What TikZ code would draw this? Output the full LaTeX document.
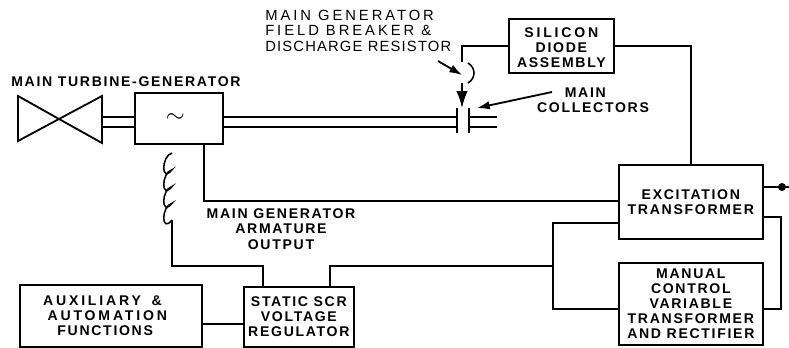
\documentclass[tikz,border=0pt]{standalone}
\usepackage{fontspec}
\setmainfont{Liberation Sans}[LetterSpace=12]
\newfontfamily\loosefont{Liberation Sans}[LetterSpace=20]
\newfontfamily\tightfont{Liberation Sans}[LetterSpace=8]
\usetikzlibrary{calc}
\usetikzlibrary{arrows.meta}
\tikzset{
    unitbox/.style={draw,line width=1.2pt,anchor=north west,inner sep=0pt},
    boldlabel/.style={font=\fontsize{10}{10.8}\selectfont\bfseries,align=center,inner sep=0pt},
    thinlabel/.style={font=\fontsize{10.5}{10.9}\selectfont,align=left,inner sep=0pt},
    wire/.style={line width=1.1pt},
    pointer/.style={line width=1.3pt,-{Latex[length=9pt,width=6pt]}},
}
\begin{document}
\begin{tikzpicture}[x=0.025cm,y=-0.025cm]
    \useasboundingbox (0,0) rectangle (789,348);
    % blocks
    \node[unitbox,minimum width=88*0.025cm,minimum height=51*0.025cm] (gen) at (134,92) {\LARGE$\sim$\kern5pt};
    \node[unitbox,boldlabel,minimum width=105*0.025cm,minimum height=54*0.025cm] (diode) at (508,18) {\rule{0pt}{10pt}{\loosefont SILICON}\\DIODE\\ASSEMBLY};
    \node[unitbox,boldlabel,minimum width=144*0.025cm,minimum height=74*0.025cm] (exciter) at (618,164) {EXCITATION\\TRANSFORMER};
    \node[unitbox,boldlabel,minimum width=144*0.025cm,minimum height=82*0.025cm] (manual) at (618,262) {MANUAL\\CONTROL\\VARIABLE\\TRANSFORMER\\AND RECTIFIER};
    \node[unitbox,boldlabel,minimum width=110*0.025cm,minimum height=60*0.025cm] (scr) at (243,286) {STATIC SCR\\VOLTAGE\\REGULATOR};
    \node[unitbox,boldlabel,minimum width=182*0.025cm,minimum height=62*0.025cm] (aux) at (19,284) {{\loosefont AUXILIARY \;\&}\kern12pt\\{\loosefont AUTOMATION}\kern5pt\\FUNCTIONS\kern8pt};
    % turbine
    \draw[line width=1.3pt,line join=miter] (59,119)--(18,96)--(18,141)--(59,119)--(102,96)--(102,143)--cycle;
    \coordinate (turb) at (102,119);
    % labels
    \node[boldlabel,anchor=west] (turblabel) at (11,82) {MAIN TURBINE-GENERATOR};
    \node[thinlabel,anchor=north west] (breakerlabel) at (265,10) {{\loosefont MAIN GENERATOR}\\{\loosefont FIELD BREAKER \&}\\{\tightfont DISCHARGE RESISTOR}};
    \node[boldlabel] (colllabel) at (593,100) {MAIN\kern11pt\\COLLECTORS};
    \node[boldlabel] (outlabel) at (281,229) {MAIN GENERATOR\\ARMATURE\\OUTPUT};
    % collectors
    \coordinate (platea) at (457,108);
    \coordinate (plateb) at (469,108);
    \draw[line width=1.5pt] (platea)--++(0,25);
    \draw[line width=1.5pt] (plateb)--++(0,25);
    \foreach \yy in {117,127}{
        \draw[wire] (turb |- 0,\yy)--(gen.west |- 0,\yy);
        \draw[wire] (gen.east |- 0,\yy)--(platea |- 0,\yy);
        \draw[wire] (plateb |- 0,\yy)--(497,\yy);
    }
    % breaker
    \coordinate (brktop) at (462,62);
    \coordinate (brkbot) at (462,83);
    \draw[wire] (diode.west |- 0,46)--(brktop |- 0,46)--(brktop);
    \draw[wire] (468,63) .. controls (476,68) and (476,78) .. (468,83);
    \draw[line width=1.1pt,-{Latex[length=12pt,width=8pt]}] (brkbot)--(platea -| brkbot);
    \coordinate (brkptr) at (438,61);
    \coordinate (collptr) at (552,92);
    \draw[pointer] (brkptr)--(462,75);
    \draw[pointer] (collptr)--(477,108);
    % wiring
    \draw[wire] (diode.east |- 0,46)--(691,46)--(exciter.north -| 691,0);
    \draw[wire] (gen.south -| 204,0)--(204,201)--(exciter.west |- 0,201);
    \coordinate (tap) at (553,266);
    \draw[wire] (exciter.west |- 0,223)--(553,223)--(553,309)--(manual.west |- 0,309);
    \draw[wire] (exciter.east |- 0,217)--(781,217)--(781,309)--(manual.east |- 0,309);
    \draw[wire] (exciter.east |- 0,187)--(789,187);
    \fill (782,187) circle[radius=4];
    \draw[wire] (tap)--(330,266)--(scr.north -| 330,0);
    \draw[wire] (aux.east |- 0,324)--(scr.west |- 0,324);
    % coil
    \coordinate (coiltop) at (172,153);
    \draw[wire] (coiltop)
        \foreach \n in {1,...,4}{ .. controls ++(-11,3) and ++(-11,14) .. ++(0,16.75)};
    \draw[wire] (172,220)--(172,266)--(263,266)--(scr.north -| 263,0);
\end{tikzpicture}
\end{document}
